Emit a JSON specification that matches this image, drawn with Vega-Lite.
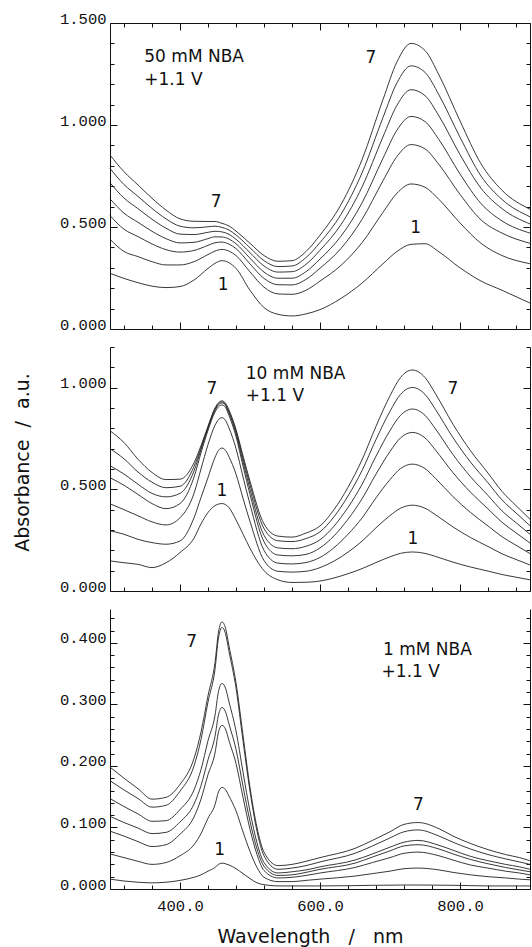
{
"$schema": "https://vega.github.io/schema/vega-lite/v6.json",
"background": "white",
"padding": {"top": 11, "left": 12, "right": 0, "bottom": 0},
"autosize": {"type": "pad"},
"bounds": "flush",
"spacing": 18,
"config": {
  "view": {"stroke": null},
  "axis": {"grid": false, "domainColor": "#111", "tickColor": "#111", "domainWidth": 1, "tickWidth": 1,
    "labelFont": "Liberation Mono", "labelFontSize": 15.5, "labelColor": "#111", "labelOverlap": false, "labelFlush": false,
    "titleFont": "DejaVu Sans", "titleFontSize": 19, "titleFontWeight": "normal", "titleColor": "#111"},
  "text": {"font": "DejaVu Sans", "fontSize": 17, "align": "left", "baseline": "alphabetic", "color": "#111"},
  "line": {"interpolate": "monotone", "strokeWidth": 0.9, "color": "#222"}
},
"datasets": {
"labels": [
{"p":1,"w":349,"a":1.309,"t":"50 mM NBA"},
{"p":1,"w":349,"a":1.196,"t":"+1.1 V"},
{"p":1,"w":444,"a":0.598,"t":"7"},
{"p":1,"w":454,"a":0.191,"t":"1"},
{"p":1,"w":665,"a":1.304,"t":"7"},
{"p":1,"w":729,"a":0.47,"t":"1"},
{"p":2,"w":494,"a":1.044,"t":"10 mM NBA"},
{"p":2,"w":494,"a":0.936,"t":"+1.1 V"},
{"p":2,"w":438,"a":0.97,"t":"7"},
{"p":2,"w":452,"a":0.468,"t":"1"},
{"p":2,"w":782,"a":0.97,"t":"7"},
{"p":2,"w":725,"a":0.232,"t":"1"},
{"p":3,"w":409,"a":0.393,"t":"7"},
{"p":3,"w":449,"a":0.055,"t":"1"},
{"p":3,"w":690,"a":0.38,"t":"1 mM NBA"},
{"p":3,"w":688,"a":0.345,"t":"+1.1 V"},
{"p":3,"w":733,"a":0.128,"t":"7"}
],
"curves": [
{"p":1,"c":1,"w":300,"a":0.273},{"p":1,"c":1,"w":320,"a":0.248},{"p":1,"c":1,"w":340,"a":0.227},{"p":1,"c":1,"w":360,"a":0.21},{"p":1,"c":1,"w":380,"a":0.203},{"p":1,"c":1,"w":400,"a":0.208},{"p":1,"c":1,"w":420,"a":0.24},{"p":1,"c":1,"w":440,"a":0.297},{"p":1,"c":1,"w":450,"a":0.322},{"p":1,"c":1,"w":460,"a":0.335},{"p":1,"c":1,"w":470,"a":0.325},{"p":1,"c":1,"w":480,"a":0.297},{"p":1,"c":1,"w":500,"a":0.19},{"p":1,"c":1,"w":520,"a":0.105},{"p":1,"c":1,"w":540,"a":0.072},{"p":1,"c":1,"w":560,"a":0.064},{"p":1,"c":1,"w":580,"a":0.074},{"p":1,"c":1,"w":600,"a":0.095},{"p":1,"c":1,"w":630,"a":0.15},{"p":1,"c":1,"w":660,"a":0.225},{"p":1,"c":1,"w":690,"a":0.32},{"p":1,"c":1,"w":710,"a":0.38},{"p":1,"c":1,"w":730,"a":0.415},{"p":1,"c":1,"w":750,"a":0.418},{"p":1,"c":1,"w":770,"a":0.378},{"p":1,"c":1,"w":800,"a":0.3},{"p":1,"c":1,"w":830,"a":0.235},{"p":1,"c":1,"w":860,"a":0.19},{"p":1,"c":1,"w":900,"a":0.127},
{"p":1,"c":2,"w":300,"a":0.44},{"p":1,"c":2,"w":320,"a":0.38},{"p":1,"c":2,"w":340,"a":0.355},{"p":1,"c":2,"w":360,"a":0.33},{"p":1,"c":2,"w":380,"a":0.314},{"p":1,"c":2,"w":400,"a":0.314},{"p":1,"c":2,"w":420,"a":0.33},{"p":1,"c":2,"w":440,"a":0.365},{"p":1,"c":2,"w":450,"a":0.382},{"p":1,"c":2,"w":460,"a":0.39},{"p":1,"c":2,"w":470,"a":0.382},{"p":1,"c":2,"w":480,"a":0.36},{"p":1,"c":2,"w":500,"a":0.28},{"p":1,"c":2,"w":520,"a":0.205},{"p":1,"c":2,"w":540,"a":0.172},{"p":1,"c":2,"w":560,"a":0.17},{"p":1,"c":2,"w":580,"a":0.19},{"p":1,"c":2,"w":600,"a":0.235},{"p":1,"c":2,"w":630,"a":0.312},{"p":1,"c":2,"w":660,"a":0.423},{"p":1,"c":2,"w":690,"a":0.572},{"p":1,"c":2,"w":710,"a":0.666},{"p":1,"c":2,"w":730,"a":0.711},{"p":1,"c":2,"w":750,"a":0.695},{"p":1,"c":2,"w":770,"a":0.635},{"p":1,"c":2,"w":800,"a":0.52},{"p":1,"c":2,"w":830,"a":0.42},{"p":1,"c":2,"w":860,"a":0.36},{"p":1,"c":2,"w":900,"a":0.32},
{"p":1,"c":3,"w":300,"a":0.556},{"p":1,"c":3,"w":320,"a":0.489},{"p":1,"c":3,"w":340,"a":0.453},{"p":1,"c":3,"w":360,"a":0.417},{"p":1,"c":3,"w":380,"a":0.389},{"p":1,"c":3,"w":400,"a":0.377},{"p":1,"c":3,"w":420,"a":0.385},{"p":1,"c":3,"w":440,"a":0.41},{"p":1,"c":3,"w":450,"a":0.423},{"p":1,"c":3,"w":460,"a":0.426},{"p":1,"c":3,"w":470,"a":0.416},{"p":1,"c":3,"w":480,"a":0.394},{"p":1,"c":3,"w":500,"a":0.319},{"p":1,"c":3,"w":520,"a":0.248},{"p":1,"c":3,"w":540,"a":0.217},{"p":1,"c":3,"w":560,"a":0.216},{"p":1,"c":3,"w":580,"a":0.243},{"p":1,"c":3,"w":600,"a":0.298},{"p":1,"c":3,"w":630,"a":0.395},{"p":1,"c":3,"w":660,"a":0.537},{"p":1,"c":3,"w":690,"a":0.727},{"p":1,"c":3,"w":710,"a":0.846},{"p":1,"c":3,"w":730,"a":0.904},{"p":1,"c":3,"w":750,"a":0.883},{"p":1,"c":3,"w":770,"a":0.806},{"p":1,"c":3,"w":800,"a":0.66},{"p":1,"c":3,"w":830,"a":0.535},{"p":1,"c":3,"w":860,"a":0.47},{"p":1,"c":3,"w":900,"a":0.42},
{"p":1,"c":4,"w":300,"a":0.638},{"p":1,"c":4,"w":320,"a":0.568},{"p":1,"c":4,"w":340,"a":0.523},{"p":1,"c":4,"w":360,"a":0.479},{"p":1,"c":4,"w":380,"a":0.443},{"p":1,"c":4,"w":400,"a":0.422},{"p":1,"c":4,"w":420,"a":0.425},{"p":1,"c":4,"w":440,"a":0.443},{"p":1,"c":4,"w":450,"a":0.452},{"p":1,"c":4,"w":460,"a":0.451},{"p":1,"c":4,"w":470,"a":0.441},{"p":1,"c":4,"w":480,"a":0.418},{"p":1,"c":4,"w":500,"a":0.347},{"p":1,"c":4,"w":520,"a":0.279},{"p":1,"c":4,"w":540,"a":0.249},{"p":1,"c":4,"w":560,"a":0.249},{"p":1,"c":4,"w":580,"a":0.281},{"p":1,"c":4,"w":600,"a":0.343},{"p":1,"c":4,"w":630,"a":0.455},{"p":1,"c":4,"w":660,"a":0.618},{"p":1,"c":4,"w":690,"a":0.837},{"p":1,"c":4,"w":710,"a":0.975},{"p":1,"c":4,"w":730,"a":1.042},{"p":1,"c":4,"w":750,"a":1.017},{"p":1,"c":4,"w":770,"a":0.928},{"p":1,"c":4,"w":800,"a":0.76},{"p":1,"c":4,"w":830,"a":0.615},{"p":1,"c":4,"w":860,"a":0.53},{"p":1,"c":4,"w":900,"a":0.47},
{"p":1,"c":5,"w":300,"a":0.717},{"p":1,"c":5,"w":320,"a":0.642},{"p":1,"c":5,"w":340,"a":0.59},{"p":1,"c":5,"w":360,"a":0.538},{"p":1,"c":5,"w":380,"a":0.494},{"p":1,"c":5,"w":400,"a":0.465},{"p":1,"c":5,"w":420,"a":0.463},{"p":1,"c":5,"w":440,"a":0.474},{"p":1,"c":5,"w":450,"a":0.479},{"p":1,"c":5,"w":460,"a":0.476},{"p":1,"c":5,"w":470,"a":0.464},{"p":1,"c":5,"w":480,"a":0.44},{"p":1,"c":5,"w":500,"a":0.374},{"p":1,"c":5,"w":520,"a":0.309},{"p":1,"c":5,"w":540,"a":0.279},{"p":1,"c":5,"w":560,"a":0.281},{"p":1,"c":5,"w":580,"a":0.317},{"p":1,"c":5,"w":600,"a":0.386},{"p":1,"c":5,"w":630,"a":0.512},{"p":1,"c":5,"w":660,"a":0.696},{"p":1,"c":5,"w":690,"a":0.942},{"p":1,"c":5,"w":710,"a":1.097},{"p":1,"c":5,"w":730,"a":1.173},{"p":1,"c":5,"w":750,"a":1.144},{"p":1,"c":5,"w":770,"a":1.044},{"p":1,"c":5,"w":800,"a":0.855},{"p":1,"c":5,"w":830,"a":0.69},{"p":1,"c":5,"w":860,"a":0.59},{"p":1,"c":5,"w":900,"a":0.515},
{"p":1,"c":6,"w":300,"a":0.787},{"p":1,"c":6,"w":320,"a":0.708},{"p":1,"c":6,"w":340,"a":0.65},{"p":1,"c":6,"w":360,"a":0.591},{"p":1,"c":6,"w":380,"a":0.54},{"p":1,"c":6,"w":400,"a":0.504},{"p":1,"c":6,"w":420,"a":0.496},{"p":1,"c":6,"w":440,"a":0.501},{"p":1,"c":6,"w":450,"a":0.504},{"p":1,"c":6,"w":460,"a":0.498},{"p":1,"c":6,"w":470,"a":0.485},{"p":1,"c":6,"w":480,"a":0.461},{"p":1,"c":6,"w":500,"a":0.398},{"p":1,"c":6,"w":520,"a":0.335},{"p":1,"c":6,"w":540,"a":0.306},{"p":1,"c":6,"w":560,"a":0.309},{"p":1,"c":6,"w":580,"a":0.35},{"p":1,"c":6,"w":600,"a":0.424},{"p":1,"c":6,"w":630,"a":0.562},{"p":1,"c":6,"w":660,"a":0.765},{"p":1,"c":6,"w":690,"a":1.037},{"p":1,"c":6,"w":710,"a":1.207},{"p":1,"c":6,"w":730,"a":1.29},{"p":1,"c":6,"w":750,"a":1.258},{"p":1,"c":6,"w":770,"a":1.147},{"p":1,"c":6,"w":800,"a":0.94},{"p":1,"c":6,"w":830,"a":0.75},{"p":1,"c":6,"w":860,"a":0.635},{"p":1,"c":6,"w":900,"a":0.55},
{"p":1,"c":7,"w":300,"a":0.853},{"p":1,"c":7,"w":320,"a":0.771},{"p":1,"c":7,"w":340,"a":0.706},{"p":1,"c":7,"w":360,"a":0.641},{"p":1,"c":7,"w":380,"a":0.583},{"p":1,"c":7,"w":400,"a":0.54},{"p":1,"c":7,"w":420,"a":0.528},{"p":1,"c":7,"w":440,"a":0.527},{"p":1,"c":7,"w":450,"a":0.527},{"p":1,"c":7,"w":460,"a":0.518},{"p":1,"c":7,"w":470,"a":0.505},{"p":1,"c":7,"w":480,"a":0.48},{"p":1,"c":7,"w":500,"a":0.42},{"p":1,"c":7,"w":520,"a":0.36},{"p":1,"c":7,"w":540,"a":0.332},{"p":1,"c":7,"w":560,"a":0.335},{"p":1,"c":7,"w":580,"a":0.38},{"p":1,"c":7,"w":600,"a":0.46},{"p":1,"c":7,"w":630,"a":0.61},{"p":1,"c":7,"w":660,"a":0.83},{"p":1,"c":7,"w":690,"a":1.125},{"p":1,"c":7,"w":710,"a":1.31},{"p":1,"c":7,"w":730,"a":1.4},{"p":1,"c":7,"w":750,"a":1.365},{"p":1,"c":7,"w":770,"a":1.245},{"p":1,"c":7,"w":800,"a":1.02},{"p":1,"c":7,"w":830,"a":0.81},{"p":1,"c":7,"w":860,"a":0.68},{"p":1,"c":7,"w":900,"a":0.587},
{"p":2,"c":1,"w":300,"a":0.148},{"p":2,"c":1,"w":320,"a":0.139},{"p":2,"c":1,"w":340,"a":0.131},{"p":2,"c":1,"w":360,"a":0.115},{"p":2,"c":1,"w":380,"a":0.139},{"p":2,"c":1,"w":400,"a":0.189},{"p":2,"c":1,"w":420,"a":0.26},{"p":2,"c":1,"w":430,"a":0.33},{"p":2,"c":1,"w":440,"a":0.386},{"p":2,"c":1,"w":450,"a":0.42},{"p":2,"c":1,"w":455,"a":0.4275},{"p":2,"c":1,"w":460,"a":0.43},{"p":2,"c":1,"w":465,"a":0.425},{"p":2,"c":1,"w":470,"a":0.41},{"p":2,"c":1,"w":480,"a":0.35},{"p":2,"c":1,"w":490,"a":0.28},{"p":2,"c":1,"w":500,"a":0.21},{"p":2,"c":1,"w":520,"a":0.1},{"p":2,"c":1,"w":540,"a":0.055},{"p":2,"c":1,"w":560,"a":0.042},{"p":2,"c":1,"w":580,"a":0.043},{"p":2,"c":1,"w":600,"a":0.049},{"p":2,"c":1,"w":620,"a":0.064},{"p":2,"c":1,"w":640,"a":0.085},{"p":2,"c":1,"w":660,"a":0.11},{"p":2,"c":1,"w":680,"a":0.14},{"p":2,"c":1,"w":700,"a":0.168},{"p":2,"c":1,"w":715,"a":0.185},{"p":2,"c":1,"w":732,"a":0.192},{"p":2,"c":1,"w":750,"a":0.185},{"p":2,"c":1,"w":765,"a":0.17},{"p":2,"c":1,"w":790,"a":0.142},{"p":2,"c":1,"w":815,"a":0.118},{"p":2,"c":1,"w":840,"a":0.098},{"p":2,"c":1,"w":860,"a":0.081},{"p":2,"c":1,"w":880,"a":0.068},{"p":2,"c":1,"w":900,"a":0.055},
{"p":2,"c":2,"w":300,"a":0.296},{"p":2,"c":2,"w":320,"a":0.279},{"p":2,"c":2,"w":340,"a":0.254},{"p":2,"c":2,"w":360,"a":0.238},{"p":2,"c":2,"w":380,"a":0.23},{"p":2,"c":2,"w":400,"a":0.246},{"p":2,"c":2,"w":420,"a":0.36},{"p":2,"c":2,"w":430,"a":0.46},{"p":2,"c":2,"w":440,"a":0.558},{"p":2,"c":2,"w":450,"a":0.657},{"p":2,"c":2,"w":455,"a":0.6915},{"p":2,"c":2,"w":460,"a":0.703},{"p":2,"c":2,"w":465,"a":0.692},{"p":2,"c":2,"w":470,"a":0.66},{"p":2,"c":2,"w":480,"a":0.575},{"p":2,"c":2,"w":490,"a":0.456},{"p":2,"c":2,"w":500,"a":0.342},{"p":2,"c":2,"w":520,"a":0.15},{"p":2,"c":2,"w":540,"a":0.097},{"p":2,"c":2,"w":560,"a":0.093},{"p":2,"c":2,"w":580,"a":0.097},{"p":2,"c":2,"w":600,"a":0.115},{"p":2,"c":2,"w":620,"a":0.147},{"p":2,"c":2,"w":640,"a":0.191},{"p":2,"c":2,"w":660,"a":0.245},{"p":2,"c":2,"w":680,"a":0.311},{"p":2,"c":2,"w":700,"a":0.371},{"p":2,"c":2,"w":715,"a":0.407},{"p":2,"c":2,"w":732,"a":0.422},{"p":2,"c":2,"w":750,"a":0.407},{"p":2,"c":2,"w":765,"a":0.375},{"p":2,"c":2,"w":790,"a":0.315},{"p":2,"c":2,"w":815,"a":0.263},{"p":2,"c":2,"w":840,"a":0.219},{"p":2,"c":2,"w":860,"a":0.183},{"p":2,"c":2,"w":880,"a":0.155},{"p":2,"c":2,"w":900,"a":0.128},
{"p":2,"c":3,"w":300,"a":0.429},{"p":2,"c":3,"w":320,"a":0.4},{"p":2,"c":3,"w":340,"a":0.37},{"p":2,"c":3,"w":360,"a":0.34},{"p":2,"c":3,"w":380,"a":0.325},{"p":2,"c":3,"w":400,"a":0.36},{"p":2,"c":3,"w":420,"a":0.48},{"p":2,"c":3,"w":430,"a":0.6},{"p":2,"c":3,"w":440,"a":0.72},{"p":2,"c":3,"w":450,"a":0.815},{"p":2,"c":3,"w":455,"a":0.843},{"p":2,"c":3,"w":460,"a":0.852},{"p":2,"c":3,"w":465,"a":0.8395},{"p":2,"c":3,"w":470,"a":0.802},{"p":2,"c":3,"w":480,"a":0.701},{"p":2,"c":3,"w":490,"a":0.561},{"p":2,"c":3,"w":500,"a":0.426},{"p":2,"c":3,"w":520,"a":0.2},{"p":2,"c":3,"w":540,"a":0.137},{"p":2,"c":3,"w":560,"a":0.133},{"p":2,"c":3,"w":580,"a":0.14},{"p":2,"c":3,"w":600,"a":0.165},{"p":2,"c":3,"w":620,"a":0.213},{"p":2,"c":3,"w":640,"a":0.279},{"p":2,"c":3,"w":660,"a":0.359},{"p":2,"c":3,"w":680,"a":0.458},{"p":2,"c":3,"w":700,"a":0.548},{"p":2,"c":3,"w":715,"a":0.602},{"p":2,"c":3,"w":732,"a":0.624},{"p":2,"c":3,"w":750,"a":0.602},{"p":2,"c":3,"w":765,"a":0.554},{"p":2,"c":3,"w":790,"a":0.464},{"p":2,"c":3,"w":815,"a":0.386},{"p":2,"c":3,"w":840,"a":0.32},{"p":2,"c":3,"w":860,"a":0.267},{"p":2,"c":3,"w":880,"a":0.225},{"p":2,"c":3,"w":900,"a":0.184},
{"p":2,"c":4,"w":300,"a":0.557},{"p":2,"c":4,"w":320,"a":0.52},{"p":2,"c":4,"w":340,"a":0.475},{"p":2,"c":4,"w":360,"a":0.43},{"p":2,"c":4,"w":380,"a":0.405},{"p":2,"c":4,"w":400,"a":0.43},{"p":2,"c":4,"w":420,"a":0.56},{"p":2,"c":4,"w":430,"a":0.68},{"p":2,"c":4,"w":440,"a":0.79},{"p":2,"c":4,"w":450,"a":0.88},{"p":2,"c":4,"w":455,"a":0.906},{"p":2,"c":4,"w":460,"a":0.915},{"p":2,"c":4,"w":465,"a":0.902},{"p":2,"c":4,"w":470,"a":0.863},{"p":2,"c":4,"w":480,"a":0.76},{"p":2,"c":4,"w":490,"a":0.615},{"p":2,"c":4,"w":500,"a":0.475},{"p":2,"c":4,"w":520,"a":0.242},{"p":2,"c":4,"w":540,"a":0.177},{"p":2,"c":4,"w":560,"a":0.173},{"p":2,"c":4,"w":580,"a":0.18},{"p":2,"c":4,"w":600,"a":0.212},{"p":2,"c":4,"w":620,"a":0.271},{"p":2,"c":4,"w":640,"a":0.353},{"p":2,"c":4,"w":660,"a":0.453},{"p":2,"c":4,"w":680,"a":0.575},{"p":2,"c":4,"w":700,"a":0.686},{"p":2,"c":4,"w":715,"a":0.753},{"p":2,"c":4,"w":732,"a":0.78},{"p":2,"c":4,"w":750,"a":0.753},{"p":2,"c":4,"w":765,"a":0.693},{"p":2,"c":4,"w":790,"a":0.582},{"p":2,"c":4,"w":815,"a":0.486},{"p":2,"c":4,"w":840,"a":0.404},{"p":2,"c":4,"w":860,"a":0.338},{"p":2,"c":4,"w":880,"a":0.286},{"p":2,"c":4,"w":900,"a":0.236},
{"p":2,"c":5,"w":300,"a":0.616},{"p":2,"c":5,"w":320,"a":0.575},{"p":2,"c":5,"w":340,"a":0.525},{"p":2,"c":5,"w":360,"a":0.48},{"p":2,"c":5,"w":380,"a":0.463},{"p":2,"c":5,"w":400,"a":0.48},{"p":2,"c":5,"w":420,"a":0.59},{"p":2,"c":5,"w":430,"a":0.695},{"p":2,"c":5,"w":440,"a":0.8},{"p":2,"c":5,"w":450,"a":0.89},{"p":2,"c":5,"w":455,"a":0.916},{"p":2,"c":5,"w":460,"a":0.925},{"p":2,"c":5,"w":465,"a":0.9125},{"p":2,"c":5,"w":470,"a":0.875},{"p":2,"c":5,"w":480,"a":0.775},{"p":2,"c":5,"w":490,"a":0.635},{"p":2,"c":5,"w":500,"a":0.5},{"p":2,"c":5,"w":520,"a":0.274},{"p":2,"c":5,"w":540,"a":0.212},{"p":2,"c":5,"w":560,"a":0.208},{"p":2,"c":5,"w":580,"a":0.22},{"p":2,"c":5,"w":600,"a":0.252},{"p":2,"c":5,"w":620,"a":0.319},{"p":2,"c":5,"w":640,"a":0.411},{"p":2,"c":5,"w":660,"a":0.524},{"p":2,"c":5,"w":680,"a":0.663},{"p":2,"c":5,"w":700,"a":0.789},{"p":2,"c":5,"w":715,"a":0.864},{"p":2,"c":5,"w":732,"a":0.895},{"p":2,"c":5,"w":750,"a":0.864},{"p":2,"c":5,"w":765,"a":0.797},{"p":2,"c":5,"w":790,"a":0.671},{"p":2,"c":5,"w":815,"a":0.562},{"p":2,"c":5,"w":840,"a":0.47},{"p":2,"c":5,"w":860,"a":0.394},{"p":2,"c":5,"w":880,"a":0.336},{"p":2,"c":5,"w":900,"a":0.279},
{"p":2,"c":6,"w":300,"a":0.7},{"p":2,"c":6,"w":320,"a":0.65},{"p":2,"c":6,"w":340,"a":0.585},{"p":2,"c":6,"w":360,"a":0.535},{"p":2,"c":6,"w":380,"a":0.508},{"p":2,"c":6,"w":400,"a":0.515},{"p":2,"c":6,"w":420,"a":0.612},{"p":2,"c":6,"w":430,"a":0.705},{"p":2,"c":6,"w":440,"a":0.805},{"p":2,"c":6,"w":450,"a":0.895},{"p":2,"c":6,"w":455,"a":0.921},{"p":2,"c":6,"w":460,"a":0.93},{"p":2,"c":6,"w":465,"a":0.918},{"p":2,"c":6,"w":470,"a":0.882},{"p":2,"c":6,"w":480,"a":0.786},{"p":2,"c":6,"w":490,"a":0.652},{"p":2,"c":6,"w":500,"a":0.523},{"p":2,"c":6,"w":520,"a":0.307},{"p":2,"c":6,"w":540,"a":0.247},{"p":2,"c":6,"w":560,"a":0.243},{"p":2,"c":6,"w":580,"a":0.258},{"p":2,"c":6,"w":600,"a":0.291},{"p":2,"c":6,"w":620,"a":0.365},{"p":2,"c":6,"w":640,"a":0.467},{"p":2,"c":6,"w":660,"a":0.592},{"p":2,"c":6,"w":680,"a":0.745},{"p":2,"c":6,"w":700,"a":0.884},{"p":2,"c":6,"w":715,"a":0.967},{"p":2,"c":6,"w":732,"a":1.001},{"p":2,"c":6,"w":750,"a":0.967},{"p":2,"c":6,"w":765,"a":0.893},{"p":2,"c":6,"w":790,"a":0.754},{"p":2,"c":6,"w":815,"a":0.634},{"p":2,"c":6,"w":840,"a":0.532},{"p":2,"c":6,"w":860,"a":0.448},{"p":2,"c":6,"w":880,"a":0.384},{"p":2,"c":6,"w":900,"a":0.321},
{"p":2,"c":7,"w":300,"a":0.788},{"p":2,"c":7,"w":320,"a":0.73},{"p":2,"c":7,"w":340,"a":0.648},{"p":2,"c":7,"w":360,"a":0.583},{"p":2,"c":7,"w":380,"a":0.548},{"p":2,"c":7,"w":400,"a":0.55},{"p":2,"c":7,"w":420,"a":0.63},{"p":2,"c":7,"w":430,"a":0.715},{"p":2,"c":7,"w":440,"a":0.81},{"p":2,"c":7,"w":450,"a":0.9},{"p":2,"c":7,"w":455,"a":0.926},{"p":2,"c":7,"w":460,"a":0.935},{"p":2,"c":7,"w":465,"a":0.924},{"p":2,"c":7,"w":470,"a":0.89},{"p":2,"c":7,"w":480,"a":0.795},{"p":2,"c":7,"w":490,"a":0.665},{"p":2,"c":7,"w":500,"a":0.54},{"p":2,"c":7,"w":520,"a":0.33},{"p":2,"c":7,"w":540,"a":0.27},{"p":2,"c":7,"w":560,"a":0.265},{"p":2,"c":7,"w":580,"a":0.285},{"p":2,"c":7,"w":600,"a":0.32},{"p":2,"c":7,"w":620,"a":0.4},{"p":2,"c":7,"w":640,"a":0.51},{"p":2,"c":7,"w":660,"a":0.645},{"p":2,"c":7,"w":680,"a":0.81},{"p":2,"c":7,"w":700,"a":0.96},{"p":2,"c":7,"w":715,"a":1.05},{"p":2,"c":7,"w":732,"a":1.087},{"p":2,"c":7,"w":750,"a":1.05},{"p":2,"c":7,"w":765,"a":0.97},{"p":2,"c":7,"w":790,"a":0.82},{"p":2,"c":7,"w":815,"a":0.69},{"p":2,"c":7,"w":840,"a":0.58},{"p":2,"c":7,"w":860,"a":0.49},{"p":2,"c":7,"w":880,"a":0.42},{"p":2,"c":7,"w":900,"a":0.353},
{"p":3,"c":1,"w":300,"a":0.016},{"p":3,"c":1,"w":320,"a":0.013},{"p":3,"c":1,"w":340,"a":0.011},{"p":3,"c":1,"w":360,"a":0.01},{"p":3,"c":1,"w":380,"a":0.011},{"p":3,"c":1,"w":400,"a":0.014},{"p":3,"c":1,"w":420,"a":0.019},{"p":3,"c":1,"w":430,"a":0.023},{"p":3,"c":1,"w":440,"a":0.029},{"p":3,"c":1,"w":450,"a":0.035},{"p":3,"c":1,"w":455,"a":0.04},{"p":3,"c":1,"w":460,"a":0.042},{"p":3,"c":1,"w":465,"a":0.041},{"p":3,"c":1,"w":470,"a":0.039},{"p":3,"c":1,"w":480,"a":0.033},{"p":3,"c":1,"w":490,"a":0.025},{"p":3,"c":1,"w":500,"a":0.017},{"p":3,"c":1,"w":510,"a":0.01},{"p":3,"c":1,"w":520,"a":0.007},{"p":3,"c":1,"w":540,"a":0.005},{"p":3,"c":1,"w":560,"a":0.005},{"p":3,"c":1,"w":580,"a":0.005},{"p":3,"c":1,"w":600,"a":0.005},{"p":3,"c":1,"w":650,"a":0.0055},{"p":3,"c":1,"w":675,"a":0.006},{"p":3,"c":1,"w":700,"a":0.0062},{"p":3,"c":1,"w":720,"a":0.0065},{"p":3,"c":1,"w":740,"a":0.0065},{"p":3,"c":1,"w":770,"a":0.0062},{"p":3,"c":1,"w":790,"a":0.006},{"p":3,"c":1,"w":815,"a":0.0055},{"p":3,"c":1,"w":840,"a":0.005},{"p":3,"c":1,"w":865,"a":0.005},{"p":3,"c":1,"w":885,"a":0.005},{"p":3,"c":1,"w":900,"a":0.005},
{"p":3,"c":2,"w":300,"a":0.057},{"p":3,"c":2,"w":320,"a":0.051},{"p":3,"c":2,"w":340,"a":0.045},{"p":3,"c":2,"w":360,"a":0.04},{"p":3,"c":2,"w":380,"a":0.043},{"p":3,"c":2,"w":400,"a":0.054},{"p":3,"c":2,"w":420,"a":0.072},{"p":3,"c":2,"w":430,"a":0.09},{"p":3,"c":2,"w":440,"a":0.115},{"p":3,"c":2,"w":450,"a":0.137},{"p":3,"c":2,"w":455,"a":0.158},{"p":3,"c":2,"w":460,"a":0.165},{"p":3,"c":2,"w":465,"a":0.1615},{"p":3,"c":2,"w":470,"a":0.151},{"p":3,"c":2,"w":480,"a":0.127},{"p":3,"c":2,"w":490,"a":0.093},{"p":3,"c":2,"w":500,"a":0.061},{"p":3,"c":2,"w":510,"a":0.035},{"p":3,"c":2,"w":520,"a":0.019},{"p":3,"c":2,"w":540,"a":0.012},{"p":3,"c":2,"w":560,"a":0.012},{"p":3,"c":2,"w":580,"a":0.014},{"p":3,"c":2,"w":600,"a":0.016},{"p":3,"c":2,"w":650,"a":0.021},{"p":3,"c":2,"w":675,"a":0.025},{"p":3,"c":2,"w":700,"a":0.029},{"p":3,"c":2,"w":720,"a":0.033},{"p":3,"c":2,"w":740,"a":0.034},{"p":3,"c":2,"w":770,"a":0.031},{"p":3,"c":2,"w":790,"a":0.027},{"p":3,"c":2,"w":815,"a":0.023},{"p":3,"c":2,"w":840,"a":0.02},{"p":3,"c":2,"w":865,"a":0.018},{"p":3,"c":2,"w":885,"a":0.016},{"p":3,"c":2,"w":900,"a":0.015},
{"p":3,"c":3,"w":300,"a":0.094},{"p":3,"c":3,"w":320,"a":0.086},{"p":3,"c":3,"w":340,"a":0.077},{"p":3,"c":3,"w":360,"a":0.069},{"p":3,"c":3,"w":380,"a":0.072},{"p":3,"c":3,"w":400,"a":0.089},{"p":3,"c":3,"w":420,"a":0.117},{"p":3,"c":3,"w":430,"a":0.146},{"p":3,"c":3,"w":440,"a":0.186},{"p":3,"c":3,"w":450,"a":0.221},{"p":3,"c":3,"w":455,"a":0.255},{"p":3,"c":3,"w":460,"a":0.266},{"p":3,"c":3,"w":465,"a":0.26},{"p":3,"c":3,"w":470,"a":0.241},{"p":3,"c":3,"w":480,"a":0.204},{"p":3,"c":3,"w":490,"a":0.149},{"p":3,"c":3,"w":500,"a":0.097},{"p":3,"c":3,"w":510,"a":0.056},{"p":3,"c":3,"w":520,"a":0.03},{"p":3,"c":3,"w":540,"a":0.018},{"p":3,"c":3,"w":560,"a":0.019},{"p":3,"c":3,"w":580,"a":0.022},{"p":3,"c":3,"w":600,"a":0.026},{"p":3,"c":3,"w":650,"a":0.035},{"p":3,"c":3,"w":675,"a":0.043},{"p":3,"c":3,"w":700,"a":0.051},{"p":3,"c":3,"w":720,"a":0.058},{"p":3,"c":3,"w":740,"a":0.06},{"p":3,"c":3,"w":770,"a":0.054},{"p":3,"c":3,"w":790,"a":0.047},{"p":3,"c":3,"w":815,"a":0.039},{"p":3,"c":3,"w":840,"a":0.034},{"p":3,"c":3,"w":865,"a":0.029},{"p":3,"c":3,"w":885,"a":0.026},{"p":3,"c":3,"w":900,"a":0.023},
{"p":3,"c":4,"w":300,"a":0.118},{"p":3,"c":4,"w":320,"a":0.108},{"p":3,"c":4,"w":340,"a":0.099},{"p":3,"c":4,"w":360,"a":0.09},{"p":3,"c":4,"w":380,"a":0.092},{"p":3,"c":4,"w":400,"a":0.109},{"p":3,"c":4,"w":420,"a":0.138},{"p":3,"c":4,"w":430,"a":0.168},{"p":3,"c":4,"w":440,"a":0.21},{"p":3,"c":4,"w":450,"a":0.248},{"p":3,"c":4,"w":455,"a":0.283},{"p":3,"c":4,"w":460,"a":0.295},{"p":3,"c":4,"w":465,"a":0.288},{"p":3,"c":4,"w":470,"a":0.268},{"p":3,"c":4,"w":480,"a":0.227},{"p":3,"c":4,"w":490,"a":0.167},{"p":3,"c":4,"w":500,"a":0.11},{"p":3,"c":4,"w":510,"a":0.065},{"p":3,"c":4,"w":520,"a":0.037},{"p":3,"c":4,"w":540,"a":0.022},{"p":3,"c":4,"w":560,"a":0.023},{"p":3,"c":4,"w":580,"a":0.027},{"p":3,"c":4,"w":600,"a":0.032},{"p":3,"c":4,"w":650,"a":0.042},{"p":3,"c":4,"w":675,"a":0.052},{"p":3,"c":4,"w":700,"a":0.062},{"p":3,"c":4,"w":720,"a":0.07},{"p":3,"c":4,"w":740,"a":0.072},{"p":3,"c":4,"w":770,"a":0.065},{"p":3,"c":4,"w":790,"a":0.057},{"p":3,"c":4,"w":815,"a":0.048},{"p":3,"c":4,"w":840,"a":0.041},{"p":3,"c":4,"w":865,"a":0.035},{"p":3,"c":4,"w":885,"a":0.031},{"p":3,"c":4,"w":900,"a":0.028},
{"p":3,"c":5,"w":300,"a":0.147},{"p":3,"c":5,"w":320,"a":0.134},{"p":3,"c":5,"w":340,"a":0.122},{"p":3,"c":5,"w":360,"a":0.11},{"p":3,"c":5,"w":380,"a":0.111},{"p":3,"c":5,"w":400,"a":0.129},{"p":3,"c":5,"w":420,"a":0.161},{"p":3,"c":5,"w":430,"a":0.194},{"p":3,"c":5,"w":440,"a":0.241},{"p":3,"c":5,"w":450,"a":0.282},{"p":3,"c":5,"w":455,"a":0.321},{"p":3,"c":5,"w":460,"a":0.334},{"p":3,"c":5,"w":465,"a":0.3265},{"p":3,"c":5,"w":470,"a":0.304},{"p":3,"c":5,"w":480,"a":0.257},{"p":3,"c":5,"w":490,"a":0.19},{"p":3,"c":5,"w":500,"a":0.126},{"p":3,"c":5,"w":510,"a":0.075},{"p":3,"c":5,"w":520,"a":0.043},{"p":3,"c":5,"w":540,"a":0.026},{"p":3,"c":5,"w":560,"a":0.028},{"p":3,"c":5,"w":580,"a":0.031},{"p":3,"c":5,"w":600,"a":0.036},{"p":3,"c":5,"w":650,"a":0.047},{"p":3,"c":5,"w":675,"a":0.057},{"p":3,"c":5,"w":700,"a":0.068},{"p":3,"c":5,"w":720,"a":0.076},{"p":3,"c":5,"w":740,"a":0.079},{"p":3,"c":5,"w":770,"a":0.071},{"p":3,"c":5,"w":790,"a":0.063},{"p":3,"c":5,"w":815,"a":0.053},{"p":3,"c":5,"w":840,"a":0.046},{"p":3,"c":5,"w":865,"a":0.04},{"p":3,"c":5,"w":885,"a":0.036},{"p":3,"c":5,"w":900,"a":0.032},
{"p":3,"c":6,"w":300,"a":0.176},{"p":3,"c":6,"w":320,"a":0.161},{"p":3,"c":6,"w":340,"a":0.147},{"p":3,"c":6,"w":360,"a":0.133},{"p":3,"c":6,"w":380,"a":0.136},{"p":3,"c":6,"w":400,"a":0.159},{"p":3,"c":6,"w":420,"a":0.2},{"p":3,"c":6,"w":430,"a":0.243},{"p":3,"c":6,"w":440,"a":0.304},{"p":3,"c":6,"w":450,"a":0.357},{"p":3,"c":6,"w":455,"a":0.408},{"p":3,"c":6,"w":460,"a":0.425},{"p":3,"c":6,"w":465,"a":0.415},{"p":3,"c":6,"w":470,"a":0.386},{"p":3,"c":6,"w":480,"a":0.327},{"p":3,"c":6,"w":490,"a":0.241},{"p":3,"c":6,"w":500,"a":0.159},{"p":3,"c":6,"w":510,"a":0.094},{"p":3,"c":6,"w":520,"a":0.054},{"p":3,"c":6,"w":540,"a":0.032},{"p":3,"c":6,"w":560,"a":0.034},{"p":3,"c":6,"w":580,"a":0.038},{"p":3,"c":6,"w":600,"a":0.044},{"p":3,"c":6,"w":650,"a":0.058},{"p":3,"c":6,"w":675,"a":0.07},{"p":3,"c":6,"w":700,"a":0.083},{"p":3,"c":6,"w":720,"a":0.093},{"p":3,"c":6,"w":740,"a":0.096},{"p":3,"c":6,"w":770,"a":0.086},{"p":3,"c":6,"w":790,"a":0.076},{"p":3,"c":6,"w":815,"a":0.065},{"p":3,"c":6,"w":840,"a":0.056},{"p":3,"c":6,"w":865,"a":0.049},{"p":3,"c":6,"w":885,"a":0.044},{"p":3,"c":6,"w":900,"a":0.04},
{"p":3,"c":7,"w":300,"a":0.198},{"p":3,"c":7,"w":320,"a":0.18},{"p":3,"c":7,"w":340,"a":0.163},{"p":3,"c":7,"w":360,"a":0.146},{"p":3,"c":7,"w":380,"a":0.149},{"p":3,"c":7,"w":400,"a":0.17},{"p":3,"c":7,"w":420,"a":0.212},{"p":3,"c":7,"w":430,"a":0.255},{"p":3,"c":7,"w":440,"a":0.314},{"p":3,"c":7,"w":450,"a":0.368},{"p":3,"c":7,"w":455,"a":0.4175},{"p":3,"c":7,"w":460,"a":0.434},{"p":3,"c":7,"w":465,"a":0.424},{"p":3,"c":7,"w":470,"a":0.395},{"p":3,"c":7,"w":480,"a":0.335},{"p":3,"c":7,"w":490,"a":0.25},{"p":3,"c":7,"w":500,"a":0.165},{"p":3,"c":7,"w":510,"a":0.1},{"p":3,"c":7,"w":520,"a":0.06},{"p":3,"c":7,"w":540,"a":0.038},{"p":3,"c":7,"w":560,"a":0.04},{"p":3,"c":7,"w":580,"a":0.045},{"p":3,"c":7,"w":600,"a":0.051},{"p":3,"c":7,"w":650,"a":0.066},{"p":3,"c":7,"w":675,"a":0.079},{"p":3,"c":7,"w":700,"a":0.093},{"p":3,"c":7,"w":720,"a":0.105},{"p":3,"c":7,"w":740,"a":0.108},{"p":3,"c":7,"w":770,"a":0.098},{"p":3,"c":7,"w":790,"a":0.086},{"p":3,"c":7,"w":815,"a":0.074},{"p":3,"c":7,"w":840,"a":0.064},{"p":3,"c":7,"w":865,"a":0.056},{"p":3,"c":7,"w":885,"a":0.051},{"p":3,"c":7,"w":900,"a":0.046}
]
},
"vconcat": [
{
 "width": 420, "height": 306,
 "layer": [
  {
   "data": {"name": "curves"},
   "transform": [{"filter": "datum.p === 1"}],
   "mark": {"type": "line"},
   "encoding": {
    "x": {"field": "w", "type": "quantitative", "scale": {"domain": [300, 900], "nice": false, "zero": false},
      "axis": {"orient": "bottom", "title": null, "labels": false, "values": [320,360,400,440,480,520,560,600,640,680,720,760,800,840,880],
        "tickSize": {"condition": {"test": "datum.value % 200 === 0", "value": -7}, "value": -4}}},
    "y": {"field": "a", "type": "quantitative", "scale": {"domain": [0, 1.5], "nice": false, "zero": false},
      "axis": {"orient": "left", "title": null, "values": [0,0.1,0.2,0.3,0.4,0.5,0.6,0.7,0.8,0.9,1,1.1,1.2,1.3,1.4,1.5],
        "labelExpr": "round(datum.value*10) % 5 === 0 ? format(datum.value, '.3f') : ''",
        "labelBaseline": "alphabetic", "labelPadding": 11,
        "tickSize": {"condition": {"test": "round(datum.value*10) % 5 === 0", "value": -7}, "value": -4}}},
    "detail": {"field": "c", "type": "nominal"}
   }
  },
  {
   "data": {"name": "labels"},
   "transform": [{"filter": "datum.p === 1"}],
   "mark": {"type": "text"},
   "encoding": {
    "x": {"field": "w", "type": "quantitative",
      "axis": {"orient": "top", "title": null, "labels": false, "values": [320,360,400,440,480,520,560,600,640,680,720,760,800,840,880],
        "tickSize": {"condition": {"test": "datum.value % 200 === 0", "value": -7}, "value": -4}}},
    "y": {"field": "a", "type": "quantitative",
      "axis": {"orient": "right", "title": null, "labels": false, "values": [0,0.1,0.2,0.3,0.4,0.5,0.6,0.7,0.8,0.9,1,1.1,1.2,1.3,1.4,1.5],
        "tickSize": {"condition": {"test": "round(datum.value*10) % 5 === 0", "value": -7}, "value": -4}}},
    "text": {"field": "t"}
   }
  }
 ],
 "resolve": {"axis": {"x": "independent", "y": "independent"}}
},
{
 "width": 420, "height": 244,
 "layer": [
  {
   "data": {"name": "curves"},
   "transform": [{"filter": "datum.p === 2"}],
   "mark": {"type": "line"},
   "encoding": {
    "x": {"field": "w", "type": "quantitative", "scale": {"domain": [300, 900], "nice": false, "zero": false},
      "axis": {"orient": "bottom", "title": null, "labels": false, "values": [320,360,400,440,480,520,560,600,640,680,720,760,800,840,880],
        "tickSize": {"condition": {"test": "datum.value % 200 === 0", "value": -7}, "value": -4}}},
    "y": {"field": "a", "type": "quantitative", "scale": {"domain": [0, 1.2], "nice": false, "zero": false},
      "axis": {"orient": "left", "title": "Absorbance\u00a0\u00a0/\u00a0\u00a0a.u.", "titleX": -88, "titleY": 115, "titleAngle": -90, "titleAlign": "center", "titleBaseline": "middle",
        "values": [0,0.1,0.2,0.3,0.4,0.5,0.6,0.7,0.8,0.9,1,1.1,1.2],
        "labelExpr": "round(datum.value*10) % 5 === 0 ? format(datum.value, '.3f') : ''",
        "labelBaseline": "alphabetic", "labelPadding": 11,
        "tickSize": {"condition": {"test": "round(datum.value*10) % 5 === 0", "value": -7}, "value": -4}}},
    "detail": {"field": "c", "type": "nominal"}
   }
  },
  {
   "data": {"name": "labels"},
   "transform": [{"filter": "datum.p === 2"}],
   "mark": {"type": "text"},
   "encoding": {
    "x": {"field": "w", "type": "quantitative", "axis": null},
    "y": {"field": "a", "type": "quantitative",
      "axis": {"orient": "right", "title": null, "labels": false, "values": [0,0.1,0.2,0.3,0.4,0.5,0.6,0.7,0.8,0.9,1,1.1,1.2],
        "tickSize": {"condition": {"test": "round(datum.value*10) % 5 === 0", "value": -7}, "value": -4}}},
    "text": {"field": "t"}
   }
  }
 ],
 "resolve": {"axis": {"x": "independent", "y": "independent"}}
},
{
 "width": 420, "height": 280,
 "layer": [
  {
   "data": {"name": "curves"},
   "transform": [{"filter": "datum.p === 3"}],
   "mark": {"type": "line"},
   "encoding": {
    "x": {"field": "w", "type": "quantitative", "scale": {"domain": [300, 900], "nice": false, "zero": false},
      "axis": {"orient": "bottom", "title": "Wavelength\u00a0\u00a0\u00a0/\u00a0\u00a0\u00a0nm", "titleX": 200, "titlePadding": 11,
        "values": [320,360,400,440,480,520,560,600,640,680,720,760,800,840,880],
        "labelExpr": "datum.value % 200 === 0 ? format(datum.value, '.1f') : ''", "labelPadding": 16,
        "tickSize": {"condition": {"test": "datum.value % 200 === 0", "value": -7}, "value": -4}}},
    "y": {"field": "a", "type": "quantitative", "scale": {"domain": [0, 0.455], "nice": false, "zero": false},
      "axis": {"orient": "left", "title": null,
        "values": [0,0.02,0.04,0.06,0.08,0.1,0.12,0.14,0.16,0.18,0.2,0.22,0.24,0.26,0.28,0.3,0.32,0.34,0.36,0.38,0.4,0.42,0.44],
        "labelExpr": "round(datum.value*100) % 10 === 0 ? format(datum.value, '.3f') : ''",
        "labelBaseline": "alphabetic", "labelPadding": 11,
        "tickSize": {"condition": {"test": "round(datum.value*100) % 10 === 0", "value": -7}, "value": -4}}},
    "detail": {"field": "c", "type": "nominal"}
   }
  },
  {
   "data": {"name": "labels"},
   "transform": [{"filter": "datum.p === 3"}],
   "mark": {"type": "text"},
   "encoding": {
    "x": {"field": "w", "type": "quantitative", "axis": null},
    "y": {"field": "a", "type": "quantitative",
      "axis": {"orient": "right", "title": null, "labels": false,
        "values": [0,0.02,0.04,0.06,0.08,0.1,0.12,0.14,0.16,0.18,0.2,0.22,0.24,0.26,0.28,0.3,0.32,0.34,0.36,0.38,0.4,0.42,0.44],
        "tickSize": {"condition": {"test": "round(datum.value*100) % 10 === 0", "value": -7}, "value": -4}}},
    "text": {"field": "t"}
   }
  }
 ],
 "resolve": {"axis": {"x": "independent", "y": "independent"}}
}
]
}
